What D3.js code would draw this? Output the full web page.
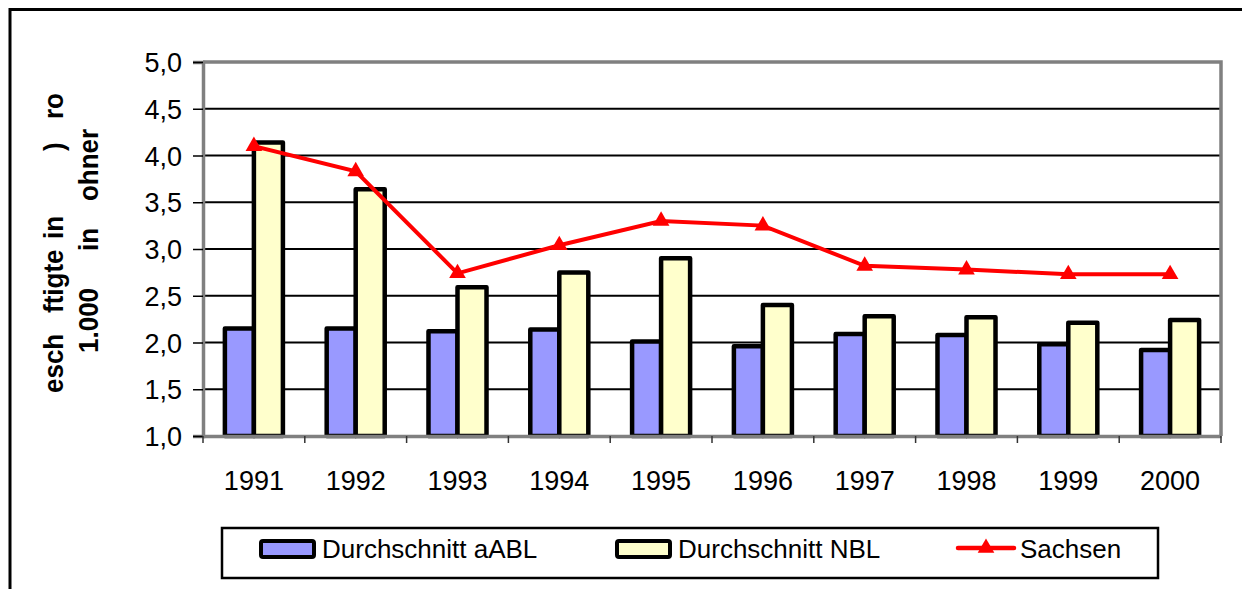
<!DOCTYPE html>
<html>
<head>
<meta charset="utf-8">
<script src="https://cdn.jsdelivr.net/npm/d3@7"></script>
<style>
  html, body { margin: 0; padding: 0; background: #fff; }
  svg { display: block; }
  text { font-family: "Liberation Sans", Arial, sans-serif; }
</style>
</head>
<body>
<svg id="chart" width="1242" height="589"></svg>
<script>
// ---- data ----
const years = ["1991","1992","1993","1994","1995","1996","1997","1998","1999","2000"];
const aABL    = [2.15, 2.15, 2.12, 2.14, 2.01, 1.96, 2.09, 2.08, 1.98, 1.92];
const NBL     = [4.14, 3.64, 2.59, 2.75, 2.90, 2.40, 2.28, 2.27, 2.21, 2.24];
const sachsen = [4.10, 3.83, 2.74, 3.04, 3.30, 3.25, 2.82, 2.78, 2.73, 2.73];
const yTicks  = [1.0, 1.5, 2.0, 2.5, 3.0, 3.5, 4.0, 4.5, 5.0];
const seriesNames = ["Durchschnitt aABL", "Durchschnitt NBL", "Sachsen"];
const yLabelLine1 = ["esch", "ftigte", "in", ")", "ro"];
const yLabelLine2 = ["1.000", "in", "ohner"];

// ---- layout ----
const svg = d3.select("#chart");
const plot = { left: 203, right: 1221, top: 62, bottom: 436 };
const colBlue = "#9999FF", colYellow = "#FFFFCC", colRed = "#FF0000", colGray = "#808080";

// outer frame (left + top only visible)
svg.append("path")
  .attr("d", `M10,589 L10,9.5 L1242,9.5`)
  .attr("fill", "none").attr("stroke", "#000").attr("stroke-width", 3);

const x = d3.scaleBand().domain(years).range([plot.left, plot.right]);
const y = d3.scaleLinear().domain([1, 5]).range([plot.bottom, plot.top]);
const barW = x.bandwidth() * 0.285;
const x1 = d3.scaleBand().domain(["a", "n"]).range([0, barW * 2]);

// plot background
svg.append("rect")
  .attr("x", plot.left).attr("y", plot.top)
  .attr("width", plot.right - plot.left).attr("height", plot.bottom - plot.top)
  .attr("fill", "#fff");

// gridlines
svg.append("g").selectAll("line")
  .data(yTicks.filter(t => t > 1 && t < 5))
  .join("line")
  .attr("x1", plot.left).attr("x2", plot.right)
  .attr("y1", d => y(d)).attr("y2", d => y(d))
  .attr("stroke", "#000").attr("stroke-width", 2);

// plot border (gray) top & right
svg.append("path")
  .attr("d", `M${plot.left},${plot.top} L${plot.right},${plot.top} L${plot.right},${plot.bottom}`)
  .attr("fill", "none").attr("stroke", colGray).attr("stroke-width", 3.5);

// bars
const bars = svg.append("g");
const bw = x1.bandwidth();
const off = (x.bandwidth() - barW * 2) / 2;
bars.selectAll("rect.a").data(years).join("rect").attr("class", "a")
  .attr("x", (d) => x(d) + off + x1("a"))
  .attr("y", (d, i) => y(aABL[i]))
  .attr("width", bw)
  .attr("height", (d, i) => y(1) - y(aABL[i]))
  .attr("fill", colBlue).attr("stroke", "#000").attr("stroke-width", 4.5)
  .attr("stroke-linejoin", "round");
bars.selectAll("rect.n").data(years).join("rect").attr("class", "n")
  .attr("x", (d) => x(d) + off + x1("n"))
  .attr("y", (d, i) => y(NBL[i]))
  .attr("width", bw)
  .attr("height", (d, i) => y(1) - y(NBL[i]))
  .attr("fill", colYellow).attr("stroke", "#000").attr("stroke-width", 4.5)
  .attr("stroke-linejoin", "round");

// axes
const yAxis = d3.axisLeft(y).tickValues(yTicks).tickSize(10).tickFormat(d => d3.format(".1f")(d).replace(".", ","));
const gy = svg.append("g").attr("transform", `translate(${plot.left},0)`).call(yAxis);
gy.select(".domain").attr("stroke", colGray).attr("stroke-width", 3.5);
gy.selectAll(".tick line").attr("stroke", "#000").attr("stroke-width", 1.5);
gy.selectAll(".tick text").attr("x", -21).attr("dy", "0.36em")
  .attr("font-size", 27).attr("fill", "#000");

const xAxis = d3.axisBottom(x).tickSize(0);
const gx = svg.append("g").attr("transform", `translate(0,${plot.bottom})`).call(xAxis);
gx.select(".domain").attr("stroke", colGray).attr("stroke-width", 3.5);
gx.selectAll(".tick text").attr("y", 54).attr("dy", 0)
  .attr("font-size", 27).attr("fill", "#000");
// category boundary ticks
svg.append("g").selectAll("line")
  .data(years.concat(["end"]))
  .join("line")
  .attr("x1", (d) => d === "end" ? plot.right : x(d))
  .attr("x2", (d) => d === "end" ? plot.right : x(d))
  .attr("y1", plot.bottom).attr("y2", plot.bottom + 7)
  .attr("stroke", "#333").attr("stroke-width", 1.5);

// Sachsen line
const line = d3.line().x((d, i) => x(years[i]) + x.bandwidth() / 2).y(d => y(d));
svg.append("path").datum(sachsen)
  .attr("d", line)
  .attr("fill", "none").attr("stroke", colRed).attr("stroke-width", 4)
  .attr("stroke-linejoin", "miter");
const tri = d3.symbol().type(d3.symbolTriangle).size(120);
svg.append("g").selectAll("path")
  .data(sachsen).join("path")
  .attr("d", tri)
  .attr("transform", (d, i) => `translate(${x(years[i]) + x.bandwidth() / 2},${y(d)})`)
  .attr("fill", colRed);

// y-axis label (rotated, two lines, with gaps as in reference)
const lab = svg.append("g").attr("font-weight", "bold").attr("font-size", 26).attr("fill", "#000");
const line1Pos = [393, 313, 239, 151, 119];
const line2Pos = [353, 251, 201];
yLabelLine1.forEach((t, i) => {
  lab.append("text").attr("transform", `translate(63,${line1Pos[i]}) rotate(-90) scale(1,1.08)`).text(t);
});
yLabelLine2.forEach((t, i) => {
  lab.append("text").attr("transform", `translate(98,${line2Pos[i]}) rotate(-90) scale(1,1.08)`).text(t);
});

// legend
const lg = svg.append("g");
lg.append("rect").attr("x", 222).attr("y", 528).attr("width", 936).attr("height", 50)
  .attr("fill", "#fff").attr("stroke", "#000").attr("stroke-width", 2.5);
const legItems = [
  { name: seriesNames[0], type: "bar", fill: colBlue, x: 261 },
  { name: seriesNames[1], type: "bar", fill: colYellow, x: 617 },
  { name: seriesNames[2], type: "line", fill: colRed, x: 958 }
];
legItems.forEach(it => {
  if (it.type === "bar") {
    lg.append("rect").attr("x", it.x).attr("y", 541).attr("width", 53).attr("height", 16)
      .attr("rx", 2).attr("fill", it.fill).attr("stroke", "#000").attr("stroke-width", 4);
    lg.append("text").attr("x", it.x + 61).attr("y", 558).attr("font-size", 26).text(it.name);
  } else {
    lg.append("line").attr("x1", it.x).attr("x2", it.x + 56).attr("y1", 548).attr("y2", 548)
      .attr("stroke", colRed).attr("stroke-width", 4.5).attr("stroke-linecap", "round");
    lg.append("path").attr("d", tri).attr("transform", `translate(${it.x + 28},${548})`).attr("fill", colRed);
    lg.append("text").attr("x", it.x + 62).attr("y", 558).attr("font-size", 26).text(it.name);
  }
});
</script>
</body>
</html>
